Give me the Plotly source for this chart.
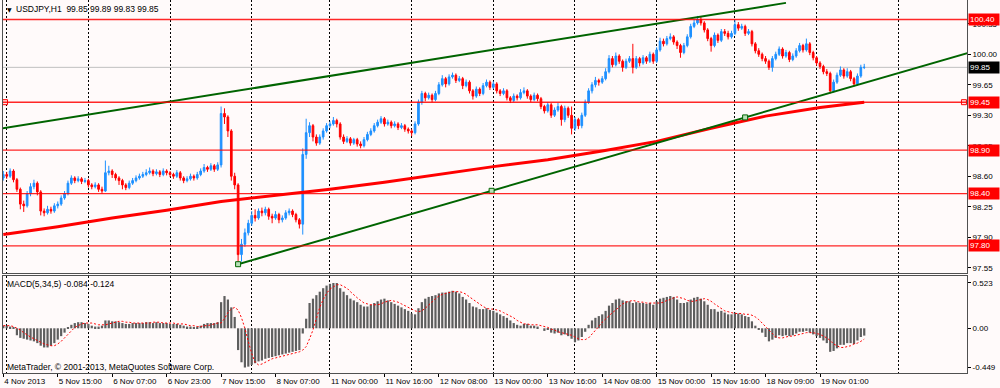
import plotly.graph_objects as go

# ---------------- price data (USDJPY H1, bar by bar) ----------------
open_ = [98.58, 98.62, 98.60, 98.66, 98.56, 98.45, 98.28, 98.26, 98.40, 98.48,
         98.52, 98.42, 98.20, 98.18, 98.22, 98.20, 98.26, 98.28, 98.35, 98.40,
         98.52, 98.58, 98.55, 98.57, 98.54, 98.55, 98.50, 98.48, 98.50, 98.45,
         98.43, 98.64, 98.66, 98.62, 98.58, 98.55, 98.50, 98.47, 98.52, 98.55,
         98.58, 98.60, 98.62, 98.64, 98.66, 98.63, 98.65, 98.62, 98.66, 98.64,
         98.62, 98.60, 98.64, 98.58, 98.55, 98.57, 98.60, 98.58, 98.62, 98.66,
         98.70, 98.68, 98.72, 98.68, 98.73, 99.32, 99.28, 99.12, 98.60, 98.50,
         97.70, 97.82, 97.95, 98.06, 98.15, 98.12, 98.20, 98.18, 98.22, 98.14,
         98.12, 98.16, 98.10, 98.12, 98.18, 98.20, 98.16, 98.10, 98.05, 98.85,
         99.10, 99.18, 99.05, 98.98, 99.05, 99.12, 99.18, 99.20, 99.24, 99.20,
         99.05, 99.00, 99.03, 98.98, 99.02, 98.97, 98.95, 99.02, 99.08, 99.12,
         99.18, 99.22, 99.26, 99.20, 99.22, 99.18, 99.20, 99.16, 99.18, 99.14,
         99.12, 99.10, 99.20, 99.45, 99.55, 99.50, 99.53, 99.48, 99.55, 99.65,
         99.72, 99.66, 99.74, 99.76, 99.70, 99.72, 99.64, 99.68, 99.58, 99.52,
         99.60, 99.55, 99.64, 99.68, 99.62, 99.66, 99.58, 99.55, 99.58, 99.50,
         99.47, 99.52, 99.50, 99.56, 99.58, 99.52, 99.48, 99.53, 99.49, 99.40,
         99.35, 99.42, 99.30, 99.36, 99.40, 99.25, 99.38, 99.30, 99.15, 99.25,
         99.18, 99.30, 99.45, 99.58, 99.65, 99.70, 99.68, 99.72, 99.80, 99.95,
         99.88, 99.98, 99.92, 99.85, 99.92, 99.95, 99.85, 99.95, 99.90, 99.96,
         99.92, 100.00, 99.92, 100.05, 100.15, 100.12, 100.18, 100.20, 100.14, 100.10,
         100.02, 100.10, 100.20, 100.32, 100.36, 100.40, 100.36, 100.28, 100.18, 100.10,
         100.22, 100.16, 100.26, 100.24, 100.20, 100.24, 100.34, 100.30, 100.32, 100.24,
         100.26, 100.12, 100.04, 100.00, 99.95, 99.92, 99.85, 99.95, 100.00, 100.06,
         99.98, 100.02, 99.94, 99.98, 100.04, 100.10, 100.05, 100.12, 100.02, 99.96,
         99.90, 99.86, 99.80, 99.78, 99.58, 99.68, 99.76, 99.82, 99.75, 99.80,
         99.72, 99.66, 99.75, 99.85]

high = [98.66, 98.65, 98.69, 98.68, 98.58, 98.47, 98.32, 98.43, 98.52, 98.56,
        98.54, 98.44, 98.23, 98.26, 98.25, 98.29, 98.31, 98.38, 98.43, 98.55,
        98.61, 98.60, 98.60, 98.59, 98.58, 98.57, 98.52, 98.53, 98.52, 98.48,
        98.78, 98.72, 98.68, 98.64, 98.60, 98.57, 98.52, 98.55, 98.58, 98.61,
        98.63, 98.65, 98.68, 98.70, 98.68, 98.68, 98.67, 98.69, 98.68, 98.66,
        98.64, 98.67, 98.66, 98.60, 98.60, 98.63, 98.62, 98.65, 98.69, 98.74,
        98.72, 98.75, 98.74, 98.76, 99.40, 99.38, 99.30, 99.14, 98.64, 98.52,
        97.88, 98.00, 98.10, 98.20, 98.22, 98.23, 98.24, 98.25, 98.24, 98.17,
        98.20, 98.18, 98.15, 98.21, 98.23, 98.22, 98.18, 98.12, 98.92, 99.26,
        99.22, 99.20, 99.08, 99.08, 99.15, 99.21, 99.23, 99.28, 99.26, 99.22,
        99.08, 99.06, 99.05, 99.04, 99.04, 99.00, 99.05, 99.11, 99.15, 99.21,
        99.25, 99.29, 99.28, 99.25, 99.24, 99.23, 99.22, 99.21, 99.20, 99.16,
        99.14, 99.23, 99.48, 99.58, 99.57, 99.56, 99.55, 99.58, 99.68, 99.76,
        99.74, 99.77, 99.79, 99.78, 99.75, 99.74, 99.71, 99.70, 99.60, 99.63,
        99.62, 99.67, 99.71, 99.70, 99.69, 99.68, 99.60, 99.61, 99.60, 99.52,
        99.55, 99.54, 99.60, 99.62, 99.60, 99.54, 99.56, 99.55, 99.51, 99.42,
        99.45, 99.44, 99.39, 99.44, 99.42, 99.41, 99.40, 99.40, 99.28, 99.27,
        99.33, 99.48, 99.61, 99.68, 99.74, 99.72, 99.75, 99.84, 99.99, 99.98,
        100.02, 100.00, 99.94, 99.95, 99.98, 100.12, 99.98, 99.97, 99.99, 99.98,
        100.03, 100.02, 100.08, 100.19, 100.18, 100.21, 100.24, 100.22, 100.16, 100.12,
        100.13, 100.23, 100.35, 100.40, 100.44, 100.43, 100.38, 100.30, 100.20, 100.25,
        100.24, 100.29, 100.29, 100.27, 100.27, 100.40, 100.37, 100.35, 100.34, 100.29,
        100.28, 100.14, 100.07, 100.02, 99.98, 99.94, 99.98, 100.03, 100.09, 100.08,
        100.05, 100.04, 100.01, 100.07, 100.13, 100.12, 100.18, 100.14, 100.04, 99.98,
        99.92, 99.88, 99.83, 99.80, 99.71, 99.79, 99.86, 99.84, 99.84, 99.82,
        99.74, 99.78, 99.88, 99.89]

low = [98.55, 98.57, 98.58, 98.53, 98.42, 98.22, 98.19, 98.24, 98.37, 98.45,
       98.38, 98.15, 98.14, 98.16, 98.17, 98.18, 98.23, 98.26, 98.33, 98.38,
       98.50, 98.52, 98.53, 98.51, 98.52, 98.47, 98.45, 98.46, 98.42, 98.40,
       98.42, 98.61, 98.58, 98.55, 98.50, 98.45, 98.44, 98.45, 98.50, 98.53,
       98.56, 98.58, 98.60, 98.62, 98.60, 98.61, 98.59, 98.60, 98.61, 98.59,
       98.57, 98.58, 98.55, 98.52, 98.53, 98.55, 98.55, 98.56, 98.60, 98.64,
       98.65, 98.66, 98.65, 98.66, 98.70, 99.20, 99.05, 98.55, 98.45, 97.59,
       97.62, 97.79, 97.92, 98.03, 98.08, 98.10, 98.14, 98.15, 98.10, 98.06,
       98.10, 98.06, 98.07, 98.10, 98.15, 98.13, 98.07, 98.00, 97.93, 98.80,
       99.05, 99.00, 98.95, 98.96, 99.02, 99.10, 99.15, 99.18, 99.16, 99.02,
       98.97, 98.98, 98.95, 98.96, 98.94, 98.92, 98.93, 99.00, 99.06, 99.10,
       99.16, 99.20, 99.17, 99.18, 99.15, 99.16, 99.13, 99.14, 99.11, 99.09,
       99.06, 99.08, 99.18, 99.42, 99.46, 99.48, 99.45, 99.46, 99.53, 99.63,
       99.62, 99.64, 99.72, 99.67, 99.68, 99.60, 99.62, 99.55, 99.48, 99.50,
       99.52, 99.53, 99.62, 99.59, 99.60, 99.55, 99.52, 99.53, 99.47, 99.44,
       99.45, 99.47, 99.48, 99.54, 99.49, 99.45, 99.46, 99.46, 99.37, 99.32,
       99.33, 99.27, 99.28, 99.34, 99.18, 99.22, 99.27, 99.08, 99.12, 99.14,
       99.15, 99.28, 99.43, 99.55, 99.62, 99.64, 99.66, 99.70, 99.78, 99.85,
       99.86, 99.89, 99.80, 99.83, 99.90, 99.78, 99.83, 99.86, 99.88, 99.89,
       99.90, 99.89, 99.90, 100.03, 100.09, 100.10, 100.16, 100.11, 100.06, 99.96,
       100.00, 100.08, 100.18, 100.30, 100.34, 100.33, 100.25, 100.15, 100.03, 100.08,
       100.13, 100.14, 100.21, 100.17, 100.18, 100.22, 100.27, 100.28, 100.21, 100.22,
       100.09, 100.01, 99.97, 99.92, 99.89, 99.82, 99.80, 99.93, 99.98, 99.95,
       99.96, 99.91, 99.92, 99.96, 100.02, 100.02, 100.03, 99.99, 99.93, 99.87,
       99.83, 99.77, 99.75, 99.55, 99.56, 99.66, 99.74, 99.72, 99.73, 99.69,
       99.63, 99.64, 99.73, 99.83]

close = [98.62, 98.60, 98.66, 98.56, 98.45, 98.28, 98.26, 98.40, 98.48, 98.52,
         98.42, 98.20, 98.18, 98.22, 98.20, 98.26, 98.28, 98.35, 98.40, 98.52,
         98.58, 98.55, 98.57, 98.54, 98.55, 98.50, 98.48, 98.50, 98.45, 98.43,
         98.64, 98.66, 98.62, 98.58, 98.55, 98.50, 98.47, 98.52, 98.55, 98.58,
         98.60, 98.62, 98.64, 98.66, 98.63, 98.65, 98.62, 98.66, 98.64, 98.62,
         98.60, 98.64, 98.58, 98.55, 98.57, 98.60, 98.58, 98.62, 98.66, 98.70,
         98.68, 98.72, 98.68, 98.73, 99.32, 99.28, 99.12, 98.60, 98.50, 97.70,
         97.82, 97.95, 98.06, 98.15, 98.12, 98.20, 98.18, 98.22, 98.14, 98.12,
         98.16, 98.10, 98.12, 98.18, 98.20, 98.16, 98.10, 98.05, 98.85, 99.10,
         99.18, 99.05, 98.98, 99.05, 99.12, 99.18, 99.20, 99.24, 99.20, 99.05,
         99.00, 99.03, 98.98, 99.02, 98.97, 98.95, 99.02, 99.08, 99.12, 99.18,
         99.22, 99.26, 99.20, 99.22, 99.18, 99.20, 99.16, 99.18, 99.14, 99.12,
         99.10, 99.20, 99.45, 99.55, 99.50, 99.53, 99.48, 99.55, 99.65, 99.72,
         99.66, 99.74, 99.76, 99.70, 99.72, 99.64, 99.68, 99.58, 99.52, 99.60,
         99.55, 99.64, 99.68, 99.62, 99.66, 99.58, 99.55, 99.58, 99.50, 99.47,
         99.52, 99.50, 99.56, 99.58, 99.52, 99.48, 99.53, 99.49, 99.40, 99.35,
         99.42, 99.30, 99.36, 99.40, 99.25, 99.38, 99.30, 99.15, 99.25, 99.18,
         99.30, 99.45, 99.58, 99.65, 99.70, 99.68, 99.72, 99.80, 99.95, 99.88,
         99.98, 99.92, 99.85, 99.92, 99.95, 99.85, 99.95, 99.90, 99.96, 99.92,
         100.00, 99.92, 100.05, 100.15, 100.12, 100.18, 100.20, 100.14, 100.10, 100.02,
         100.10, 100.20, 100.32, 100.36, 100.40, 100.36, 100.28, 100.18, 100.10, 100.22,
         100.16, 100.26, 100.24, 100.20, 100.24, 100.34, 100.30, 100.32, 100.24, 100.26,
         100.12, 100.04, 100.00, 99.95, 99.92, 99.85, 99.95, 100.00, 100.06, 99.98,
         100.02, 99.94, 99.98, 100.04, 100.10, 100.05, 100.12, 100.02, 99.96, 99.90,
         99.86, 99.80, 99.78, 99.58, 99.68, 99.76, 99.82, 99.75, 99.80, 99.72,
         99.66, 99.75, 99.85, 99.85]

bar_index = list(range(len(close)))

# moving average (thick red line) read at every 16th bar
ma_index = [0, 16, 32, 48, 64, 80, 96, 112, 128, 144, 160, 176, 192, 208, 224, 240, 253]
ma_value = [97.93, 98.02, 98.12, 98.21, 98.31, 98.38, 98.45, 98.53, 98.62, 98.71,
            98.79, 98.89, 99.00, 99.15, 99.29, 99.39, 99.45]

# MACD(5,34,5)
macd_hist = [0.03, 0.03, 0.02, 0.01, -0.08, -0.11, -0.12, -0.13, -0.14, -0.15,
             -0.17, -0.20, -0.22, -0.22, -0.20, -0.17, -0.13, -0.09, -0.05, 0.01,
             0.04, 0.06, 0.07, 0.07, 0.06, 0.05, 0.03, 0.02, 0.02, 0.03,
             0.09, 0.09, 0.08, 0.08, 0.07, 0.06, 0.05, 0.05, 0.06, 0.06,
             0.06, 0.06, 0.07, 0.07, 0.06, 0.07, 0.06, 0.06, 0.06, 0.05,
             0.05, 0.05, 0.04, 0.03, 0.02, 0.02, 0.01, 0.02, 0.03, 0.05,
             0.06, 0.06, 0.06, 0.07, 0.30, 0.37, 0.33, 0.24, 0.13, -0.25,
             -0.39, -0.45, -0.44, -0.42, -0.40, -0.38, -0.37, -0.35, -0.34, -0.33,
             -0.32, -0.31, -0.30, -0.29, -0.28, -0.27, -0.26, -0.25, -0.06, 0.11,
             0.29, 0.34, 0.38, 0.42, 0.46, 0.49, 0.51, 0.52, 0.52, 0.46,
             0.42, 0.38, 0.34, 0.32, 0.30, 0.27, 0.25, 0.25, 0.27, 0.29,
             0.31, 0.33, 0.34, 0.32, 0.30, 0.28, 0.26, 0.24, 0.22, 0.20,
             0.17, 0.16, 0.23, 0.30, 0.34, 0.36, 0.37, 0.38, 0.40, 0.41,
             0.41, 0.42, 0.43, 0.42, 0.40, 0.36, 0.33, 0.29, 0.25, 0.24,
             0.22, 0.22, 0.23, 0.21, 0.20, 0.18, 0.16, 0.14, 0.12, 0.09,
             0.06, 0.04, 0.03, 0.05, 0.05, 0.03, 0.03, 0.02, 0.00, -0.03,
             -0.02, -0.05, -0.06, -0.05, -0.08, -0.07, -0.09, -0.12, -0.16, -0.14,
             -0.10, -0.04, 0.04, 0.09, 0.12, 0.14, 0.16, 0.20, 0.26, 0.29,
             0.33, 0.34, 0.32, 0.31, 0.31, 0.29, 0.30, 0.29, 0.29, 0.28,
             0.29, 0.27, 0.31, 0.34, 0.35, 0.36, 0.37, 0.36, 0.33, 0.29,
             0.29, 0.30, 0.33, 0.35, 0.36, 0.34, 0.31, 0.27, 0.22, 0.22,
             0.19, 0.20, 0.18, 0.16, 0.16, 0.18, 0.17, 0.16, 0.14, 0.13,
             0.08, 0.03, -0.01, -0.05, -0.10, -0.15, -0.13, -0.11, -0.08, -0.09,
             -0.08, -0.09, -0.08, -0.06, -0.04, -0.04, -0.03, -0.05, -0.07, -0.09,
             -0.11, -0.14, -0.17, -0.27, -0.26, -0.23, -0.19, -0.19, -0.17, -0.17,
             -0.18, -0.14, -0.10, -0.084]

macd_signal = [0.03, 0.03, 0.03, 0.02, 0.00, -0.02, -0.05, -0.08, -0.10, -0.12,
               -0.14, -0.16, -0.18, -0.19, -0.20, -0.20, -0.18, -0.15, -0.11, -0.07,
               -0.03, 0.01, 0.03, 0.05, 0.06, 0.06, 0.06, 0.05, 0.04, 0.04,
               0.04, 0.05, 0.06, 0.07, 0.08, 0.08, 0.07, 0.07, 0.06, 0.06,
               0.06, 0.06, 0.06, 0.06, 0.07, 0.07, 0.07, 0.06, 0.06, 0.06,
               0.06, 0.05, 0.05, 0.05, 0.04, 0.03, 0.03, 0.02, 0.02, 0.03,
               0.03, 0.04, 0.05, 0.06, 0.06, 0.11, 0.18, 0.22, 0.24, 0.21,
               0.12, 0.00, -0.15, -0.29, -0.39, -0.42, -0.41, -0.39, -0.37, -0.35,
               -0.34, -0.33, -0.32, -0.31, -0.30, -0.29, -0.28, -0.27, -0.25, -0.21,
               -0.12, -0.02, 0.11, 0.24, 0.33, 0.40, 0.45, 0.48, 0.50, 0.50,
               0.48, 0.46, 0.42, 0.38, 0.35, 0.32, 0.29, 0.28, 0.27, 0.27,
               0.27, 0.28, 0.30, 0.31, 0.32, 0.31, 0.30, 0.28, 0.26, 0.24,
               0.22, 0.20, 0.19, 0.20, 0.23, 0.27, 0.31, 0.34, 0.37, 0.39,
               0.40, 0.41, 0.42, 0.42, 0.42, 0.41, 0.39, 0.36, 0.33, 0.30,
               0.27, 0.25, 0.23, 0.22, 0.22, 0.21, 0.20, 0.18, 0.16, 0.14,
               0.12, 0.09, 0.07, 0.05, 0.05, 0.04, 0.04, 0.04, 0.03, 0.02,
               0.01, -0.01, -0.02, -0.04, -0.05, -0.06, -0.07, -0.08, -0.10, -0.12,
               -0.13, -0.13, -0.11, -0.07, -0.02, 0.02, 0.07, 0.11, 0.14, 0.18,
               0.21, 0.25, 0.28, 0.30, 0.31, 0.32, 0.31, 0.30, 0.30, 0.29,
               0.29, 0.29, 0.29, 0.29, 0.30, 0.32, 0.33, 0.35, 0.36, 0.35,
               0.34, 0.32, 0.31, 0.31, 0.32, 0.33, 0.34, 0.33, 0.31, 0.28,
               0.25, 0.22, 0.20, 0.19, 0.18, 0.17, 0.17, 0.17, 0.16, 0.16,
               0.15, 0.13, 0.10, 0.06, 0.02, -0.03, -0.07, -0.10, -0.11, -0.11,
               -0.10, -0.09, -0.09, -0.08, -0.07, -0.06, -0.05, -0.05, -0.05, -0.06,
               -0.07, -0.09, -0.11, -0.14, -0.18, -0.20, -0.22, -0.22, -0.21, -0.20,
               -0.18, -0.17, -0.15, -0.124]

# objects
h_levels = [100.40, 99.45, 98.90, 98.40, 97.80]
h_labels = ["100.40", "99.45", "98.90", "98.40", "97.80"]
bid_price = 99.85
upper_trend_idx = [0, 230]
upper_trend_px = [99.15, 100.59]
lower_trend_idx = [69, 218]
lower_trend_px = [97.59, 99.275]

# axes
price_ticks = [97.55, 97.90, 98.25, 98.60, 98.95, 99.30, 99.65, 100.00, 100.35]
macd_ticks = [-0.449, 0.0, 0.523]
macd_ticktext = ["-0.449", "0.00", "0.523"]
time_label_idx = [0, 16, 32, 48, 64, 80, 96, 112, 128, 144, 160, 176, 192, 208, 224, 240]
time_labels = ["4 Nov 2013", "5 Nov 15:00", "6 Nov 07:00", "6 Nov 23:00", "7 Nov 15:00",
               "8 Nov 07:00", "11 Nov 00:00", "11 Nov 16:00", "12 Nov 08:00", "13 Nov 00:00",
               "13 Nov 16:00", "14 Nov 08:00", "15 Nov 00:00", "15 Nov 16:00", "18 Nov 09:00",
               "19 Nov 01:00"]
day_grid_idx = [1, 25, 49, 73, 96, 120, 144, 168, 192, 215, 239, 263]

# ---------------- layout geometry ----------------
W, H = 1000, 388
ML, MR, MT, MB = 3, 33, 0, 15
PW, PH = W - ML - MR, H - MT - MB
X_RANGE = [-0.09, 283.2]
Y_RANGE = [97.489, 100.623]
Y2_RANGE = [-0.513, 0.600]
MAIN_DOM = [(PH - 273) / PH, 1.0]
MACD_DOM = [0.0, (PH - 276) / PH]

BG = "#FFFAFA"
FONT = "Liberation Sans"


def px_x(p):
    return (p - ML) / PW


def px_y(p):
    return (PH + MT - p) / PH


fig = go.Figure()

fig.add_trace(go.Candlestick(
    x=bar_index, open=open_, high=high, low=low, close=close,
    increasing=dict(line=dict(color="#1E90FF", width=1), fillcolor="#1E90FF"),
    decreasing=dict(line=dict(color="#FF0000", width=1), fillcolor="#FF0000"),
    whiskerwidth=0, xaxis="x", yaxis="y", hoverinfo="skip"))

fig.add_trace(go.Scatter(x=ma_index, y=ma_value, mode="lines",
                         line=dict(color="#FF0000", width=3), xaxis="x", yaxis="y"))

# trend lines
su = (upper_trend_px[1] - upper_trend_px[0]) / (upper_trend_idx[1] - upper_trend_idx[0])
ux0 = X_RANGE[0] - 2
fig.add_trace(go.Scatter(
    x=[ux0, upper_trend_idx[1]],
    y=[upper_trend_px[0] + su * (ux0 - upper_trend_idx[0]), upper_trend_px[1]],
    mode="lines", line=dict(color="#006400", width=2), xaxis="x", yaxis="y"))

sl = (lower_trend_px[1] - lower_trend_px[0]) / (lower_trend_idx[1] - lower_trend_idx[0])
lx1 = X_RANGE[1] + 2
fig.add_trace(go.Scatter(
    x=[lower_trend_idx[0], lx1],
    y=[lower_trend_px[0], lower_trend_px[0] + sl * (lx1 - lower_trend_idx[0])],
    mode="lines", line=dict(color="#006400", width=2), xaxis="x", yaxis="y"))
mid_i = (lower_trend_idx[0] + lower_trend_idx[1]) / 2
mid_p = (lower_trend_px[0] + lower_trend_px[1]) / 2
fig.add_trace(go.Scatter(
    x=[lower_trend_idx[0], mid_i, lower_trend_idx[1]],
    y=[lower_trend_px[0], mid_p, lower_trend_px[1]],
    mode="markers", marker=dict(symbol="square", size=5, color="#B8E0B8",
                                line=dict(color="#006400", width=1)),
    xaxis="x", yaxis="y", cliponaxis=False))

# selection squares of the 99.45 line
fig.add_trace(go.Scatter(
    x=[X_RANGE[0] + 0.6, X_RANGE[1] - 0.9], y=[h_levels[1], h_levels[1]],
    mode="markers", marker=dict(symbol="square", size=5, color="#FFE0E0",
                                line=dict(color="#FF0000", width=1)),
    xaxis="x", yaxis="y", cliponaxis=False))

# MACD
fig.add_trace(go.Bar(x=bar_index, y=macd_hist, width=0.65,
                     marker=dict(color="#5E5E5E", line=dict(width=0)),
                     xaxis="x2", yaxis="y2"))
fig.add_trace(go.Scatter(x=bar_index, y=macd_signal, mode="lines",
                         line=dict(color="#FF0000", width=1, dash="2px,2px"),
                         xaxis="x2", yaxis="y2"))

shapes = []
shapes.append(dict(type="line", xref="paper", yref="y", x0=0, x1=1,
                   y0=bid_price, y1=bid_price, line=dict(color="#C0C0C0", width=1),
                   layer="below"))
for lvl in h_levels:
    shapes.append(dict(type="line", xref="paper", yref="y", x0=0, x1=1,
                       y0=lvl, y1=lvl, line=dict(color="rgba(255,0,0,0.85)", width=1.4)))

annotations = []
annotations.append(dict(xref="paper", yref="paper", x=px_x(5), y=px_y(9),
                        xanchor="left", yanchor="middle", showarrow=False,
                        text="▼", font=dict(family="DejaVu Sans", size=6, color="black")))
annotations.append(dict(xref="paper", yref="paper", x=px_x(14), y=px_y(9),
                        xanchor="left", yanchor="middle", showarrow=False,
                        text="USDJPY,H1  99.85 99.89 99.83 99.85",
                        font=dict(family=FONT, size=8.5, color="black")))
annotations.append(dict(xref="paper", yref="paper", x=px_x(5), y=px_y(284),
                        xanchor="left", yanchor="middle", showarrow=False,
                        text="MACD(5,34,5) -0.084 -0.124",
                        font=dict(family=FONT, size=8.5, color="black")))
annotations.append(dict(xref="paper", yref="paper", x=px_x(5), y=px_y(367),
                        xanchor="left", yanchor="middle", showarrow=False,
                        text="MetaTrader, © 2001-2013, MetaQuotes Software Corp.",
                        font=dict(family=FONT, size=8.5, color="black")))
for lvl, lab in zip(h_levels, h_labels):
    annotations.append(dict(xref="paper", yref="y", x=1, y=lvl, xanchor="left",
                            yanchor="middle", xshift=1, showarrow=False, text=lab,
                            bgcolor="#FF0000", borderpad=1, width=28, align="left",
                            font=dict(family=FONT, size=8, color="white")))
annotations.append(dict(xref="paper", yref="y", x=1, y=bid_price, xanchor="left",
                        yanchor="middle", xshift=1, showarrow=False, text="99.85",
                        bgcolor="#000000", borderpad=1, width=28, align="left",
                        font=dict(family=FONT, size=8, color="white")))

fig.update_layout(
    width=W, height=H, margin=dict(l=ML, r=MR, t=MT, b=MB, autoexpand=False),
    paper_bgcolor=BG, plot_bgcolor=BG, showlegend=False, hovermode=False,
    font=dict(family=FONT, size=8, color="black"),
    xaxis=dict(domain=[0, 1], anchor="y", range=X_RANGE, showgrid=False,
               showticklabels=False, ticks="", zeroline=False,
               showline=True, mirror=True, linecolor="#505050", linewidth=1,
               rangeslider=dict(visible=False),
               minor=dict(tickmode="array", tickvals=day_grid_idx, showgrid=True,
                          gridcolor="#000000", gridwidth=1, griddash="2px,2px",
                          ticks="")),
    yaxis=dict(domain=MAIN_DOM, anchor="x", side="right", range=Y_RANGE,
               showgrid=False, zeroline=False, tickmode="array",
               tickvals=price_ticks, ticktext=["%.2f" % v for v in price_ticks],
               ticks="outside", ticklen=3, tickcolor="#000000",
               showline=True, mirror=True, linecolor="#505050", linewidth=1,
               tickfont=dict(family=FONT, size=8, color="black")),
    xaxis2=dict(domain=[0, 1], anchor="y2", range=X_RANGE, showgrid=False,
                zeroline=False, tickmode="array", tickvals=time_label_idx,
                ticktext=time_labels, ticks="outside", ticklen=3, tickangle=0,
                tickcolor="#000000", ticklabelposition="outside right",
                tickfont=dict(family=FONT, size=8, color="black"),
                showline=True, mirror=True, linecolor="#505050", linewidth=1,
                minor=dict(tickmode="array", tickvals=day_grid_idx, showgrid=True,
                           gridcolor="#000000", gridwidth=1, griddash="2px,2px",
                           ticks="")),
    yaxis2=dict(domain=MACD_DOM, anchor="x2", side="right", range=Y2_RANGE,
                showgrid=False, zeroline=False, tickmode="array",
                tickvals=macd_ticks, ticktext=macd_ticktext,
                ticks="outside", ticklen=3, tickcolor="#000000",
                showline=True, mirror=True, linecolor="#505050", linewidth=1,
                tickfont=dict(family=FONT, size=8, color="black")),
    shapes=shapes, annotations=annotations,
)

fig.write_html("out.html", config={"displayModeBar": False},
               post_script="document.body.style.margin='0px';"
                           "document.body.style.padding='0px';"
                           "document.body.style.overflow='hidden';")
